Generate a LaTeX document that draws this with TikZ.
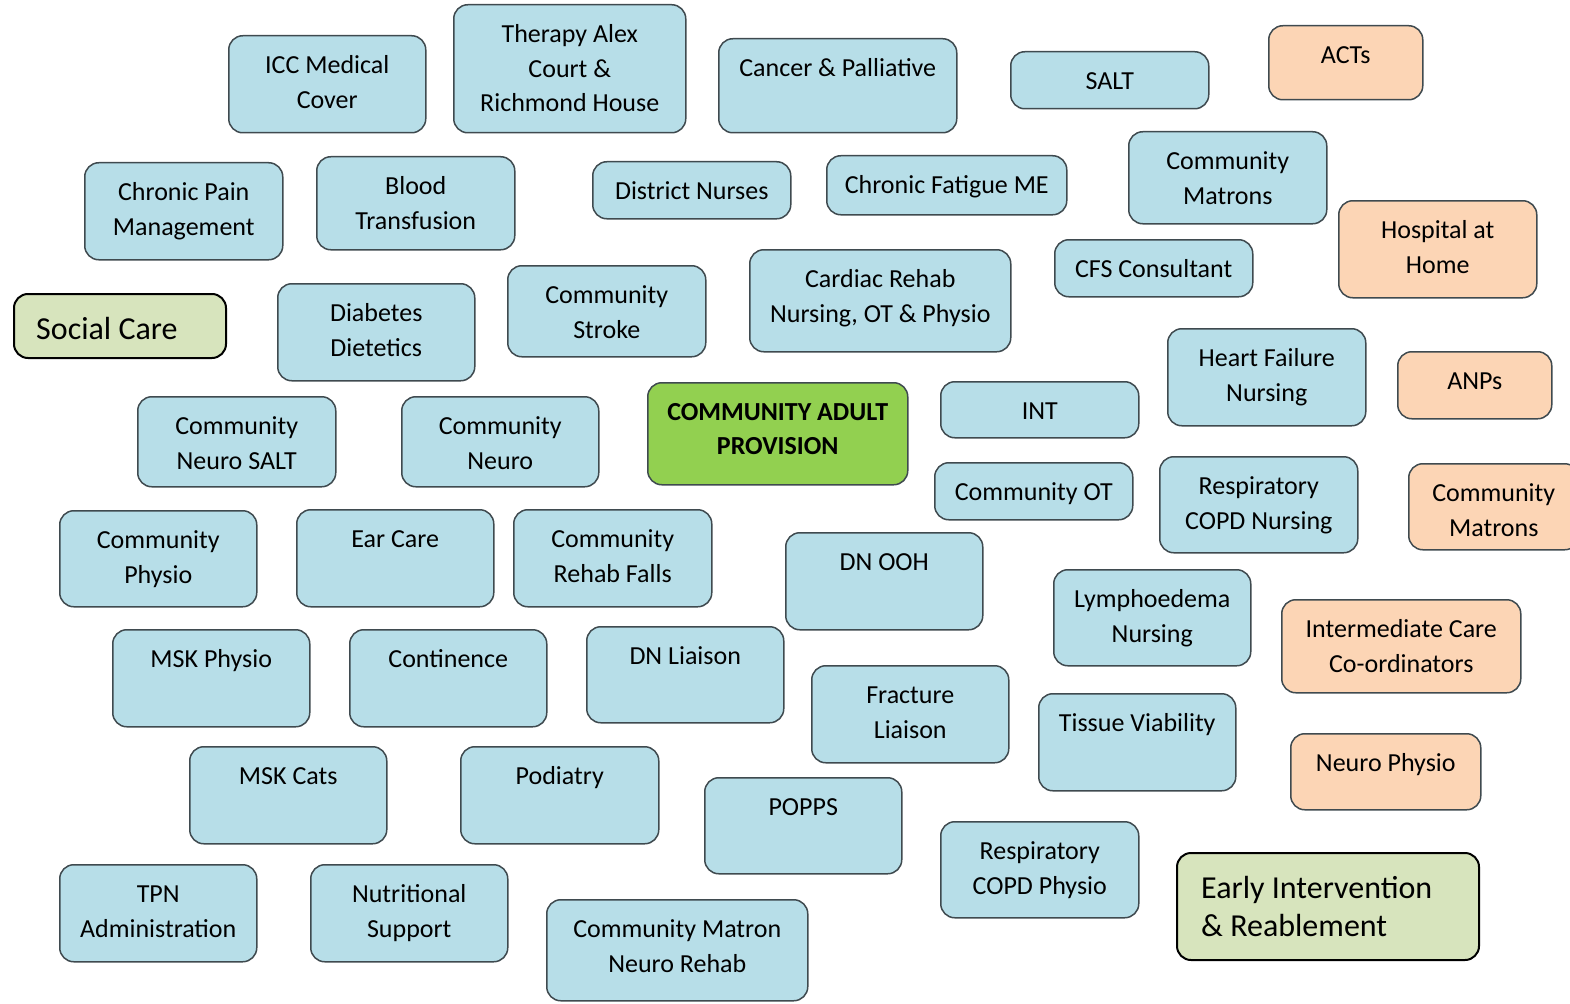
\documentclass[tikz,border=0pt]{standalone}
\usepackage{fontspec}
\setmainfont{Carlito}

\definecolor{svcblue}{HTML}{B7DEE8}
\definecolor{svcpeach}{HTML}{FCD5B5}
\definecolor{svcgreen}{HTML}{92D050}
\definecolor{svcsage}{HTML}{D7E4BD}
\definecolor{svcline}{HTML}{3F4A4F}

% box from (left,top) to (right,bottom), text hung from the top edge
\newcommand\svcnode[7]{%
  \node[#1, minimum width={#5-#3}, minimum height={#6-#4}, anchor=north west] (#2) at (#3,#4) {};
  \node[svctext, anchor=north] (#2-t) at ([yshift=-14.5pt]#2.north) {\strut #7};
}

\begin{document}
\begin{tikzpicture}[x=1pt,y=-1pt]

    \tikzset{
      svc/.style={
        draw=svcline,
        line width=1.5pt,
        rounded corners=14pt,
        inner sep=0pt,
      },
      blue/.style={svc, fill=svcblue},
      peach/.style={svc, fill=svcpeach},
      green/.style={svc, fill=svcgreen},
      sage/.style={svc, draw=black, line width=2pt, fill=svcsage},
      svctext/.style={
        inner sep=0pt,
        align=center,
        font=\fontsize{26}{34.5}\selectfont,
      },
      bigtext/.style={
        inner sep=0pt,
        align=left,
        font=\fontsize{32}{38}\selectfont,
      },
    }
    \useasboundingbox (0,0) rectangle (1570,1003);
    \clip (0,0) rectangle (1570,1003);

	% top rows
	\svcnode{blue}{icc}{228}{35}{425}{132}{ICC Medical\\Cover}
	\svcnode{blue}{therapy}{453}{4}{685}{132}{Therapy Alex\\Court \&\\Richmond House}
	\svcnode{blue}{cancer}{718}{38}{956}{132}{Cancer \& Palliative}
	\svcnode{blue}{salt}{1010}{51}{1208}{108}{SALT}
	\svcnode{peach}{acts}{1268}{25}{1422}{99}{ACTs}
	\svcnode{blue}{pain}{84}{162}{282}{259}{Chronic Pain\\Management}
	\svcnode{blue}{blood}{316}{156}{514}{249}{Blood\\Transfusion}
	\svcnode{blue}{dnurse}{592}{161}{790}{218}{District Nurses}
	\svcnode{blue}{cfme}{826}{155}{1066}{214}{Chronic Fatigue ME}
	\svcnode{blue}{cmatron}{1128}{131}{1326}{223}{Community\\Matrons}
	\svcnode{peach}{hah}{1338}{200}{1536}{297}{Hospital at\\Home}
	\svcnode{blue}{cfs}{1054}{239}{1252}{296}{CFS Consultant}
	\svcnode{blue}{cardiac}{749}{249}{1010}{351}{Cardiac Rehab\\Nursing, OT \& Physio}
	\svcnode{blue}{stroke}{507}{265}{705}{356}{Community\\Stroke}
	\svcnode{blue}{diab}{277}{283}{474}{380}{Diabetes\\Dietetics}

	% social care
	\node[sage, minimum width=212, minimum height=64, anchor=north west] (social) at (13,293) {};
	\node[bigtext, anchor=north west] (social-t) at ([xshift=23pt,yshift=-19.5pt]social.north west) {\strut Social Care};

	% middle rows
	\svcnode{blue}{heart}{1167}{328}{1365}{425}{Heart Failure\\Nursing}
	\svcnode{peach}{anps}{1397}{351}{1551}{418}{ANPs}
	\svcnode{blue}{nsalt}{137}{396}{335}{486}{Community\\Neuro SALT}
	\svcnode{blue}{cneuro}{401}{396}{598}{486}{Community\\Neuro}
	\node[green, minimum width=260, minimum height=102, anchor=north west] (cap) at (647,382) {};
	\node[svctext, font=\fontsize{26}{34}\selectfont\bfseries, anchor=north] (cap-t) at ([yshift=-14.5pt]cap.north) {\strut COMMUNITY ADULT\\PROVISION};
	\svcnode{blue}{int}{940}{381}{1138}{437}{INT}
	\svcnode{blue}{cot}{934}{462}{1132}{519}{Community OT}
	\svcnode{blue}{rcopdn}{1159}{456}{1357}{552}{Respiratory\\COPD Nursing}
	\svcnode{peach}{cmatronp}{1408}{463}{1578}{549}{Community\\Matrons}
	\svcnode{blue}{cphysio}{59}{510}{256}{606}{Community\\Physio}
	\svcnode{blue}{ear}{296}{509}{493}{606}{Ear Care}
	\svcnode{blue}{falls}{513}{509}{711}{606}{Community\\Rehab Falls}
	\svcnode{blue}{dnooh}{785}{532}{982}{629}{DN OOH}
	\svcnode{blue}{lymph}{1053}{569}{1250}{665}{Lymphoedema\\Nursing}
	\svcnode{peach}{icco}{1281}{599}{1520}{692}{Intermediate Care\\Co-ordinators}

	% lower rows
	\svcnode{blue}{mskp}{112}{629}{309}{726}{MSK Physio}
	\svcnode{blue}{cont}{349}{629}{546}{726}{Continence}
	\svcnode{blue}{dnl}{586}{626}{783}{722}{DN Liaison}
	\svcnode{blue}{frac}{811}{665}{1008}{762}{Fracture\\Liaison}
	\svcnode{blue}{tissue}{1038}{693}{1235}{790}{Tissue Viability}
	\svcnode{peach}{nphys}{1290}{733}{1480}{809}{Neuro Physio}
	\svcnode{blue}{mskc}{189}{746}{386}{843}{MSK Cats}
	\svcnode{blue}{pod}{460}{746}{658}{843}{Podiatry}
	\svcnode{blue}{popps}{704}{777}{901}{873}{POPPS}
	\svcnode{blue}{rcopdp}{940}{821}{1138}{917}{Respiratory\\COPD Physio}
	\svcnode{blue}{tpn}{59}{864}{256}{961}{TPN\\Administration}
	\svcnode{blue}{nutr}{310}{864}{507}{961}{Nutritional\\Support}
	\svcnode{blue}{cmnr}{546}{899}{807}{1000}{Community Matron\\Neuro Rehab}

	% early intervention
	\node[sage, minimum width=302, minimum height=107, anchor=north west] (eir) at (1176,852) {};
	\node[bigtext, anchor=north west] (eir-t) at ([xshift=25pt,yshift=-20pt]eir.north west) {\strut Early Intervention\\\& Reablement};

\end{tikzpicture}
\end{document}
